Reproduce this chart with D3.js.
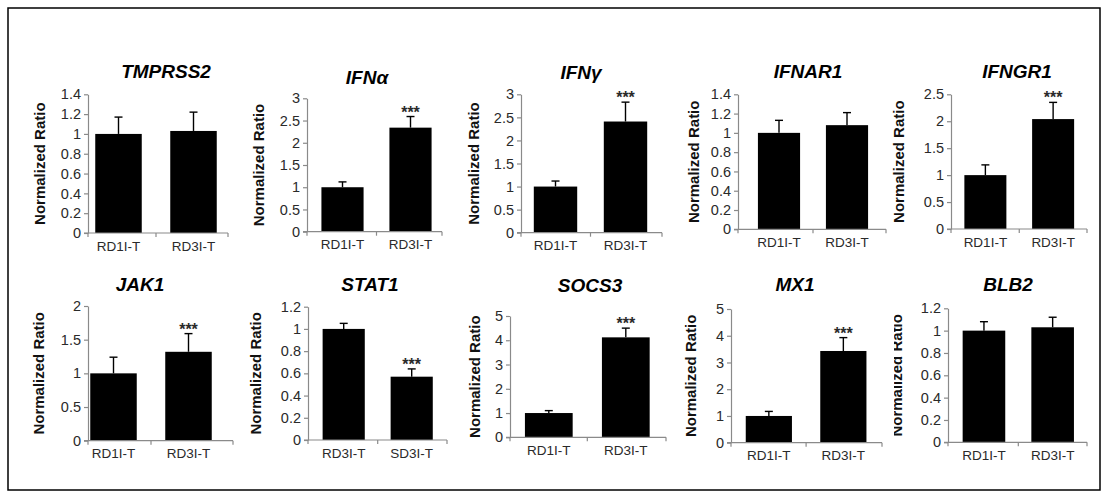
<!DOCTYPE html>
<html><head><meta charset="utf-8">
<script src="https://cdn.jsdelivr.net/npm/d3@7"></script>
<style>
body{margin:0;background:#fff}
svg{display:block}
text{font-family:"Liberation Sans",Arial,Helvetica,sans-serif}
</style>
</head><body>
<svg id="c" width="1105" height="494"></svg>
<script>
// ---------- data ----------
const genes = ["TMPRSS2","IFNα","IFNγ","IFNAR1","IFNGR1","JAK1","STAT1","SOCS3","MX1","BLB2"];
const categories = [
  ["RD1I-T","RD3I-T"],["RD1I-T","RD3I-T"],["RD1I-T","RD3I-T"],["RD1I-T","RD3I-T"],["RD1I-T","RD3I-T"],
  ["RD1I-T","RD3I-T"],["RD3I-T","SD3I-T"],["RD1I-T","RD3I-T"],["RD1I-T","RD3I-T"],["RD1I-T","RD3I-T"]
];
const means = [
  [1.00,1.03],[1.00,2.34],[1.00,2.41],[1.00,1.08],[1.00,2.04],
  [1.00,1.32],[1.00,0.57],[1.00,4.12],[1.00,3.43],[1.00,1.03]
];
const errors = [
  [0.17,0.19],[0.12,0.25],[0.12,0.42],[0.13,0.13],[0.19,0.31],
  [0.24,0.27],[0.05,0.07],[0.10,0.38],[0.17,0.50],[0.08,0.09]
];
const significance = [
  ["",""],["","***"],["","***"],["",""],["","***"],
  ["","***"],["","***"],["","***"],["","***"],["",""]
];
const yTicks = [
  [0,0.2,0.4,0.6,0.8,1,1.2,1.4],
  [0,0.5,1,1.5,2,2.5,3],
  [0,0.5,1,1.5,2,2.5,3],
  [0,0.2,0.4,0.6,0.8,1,1.2,1.4],
  [0,0.5,1,1.5,2,2.5],
  [0,0.5,1,1.5,2],
  [0,0.2,0.4,0.6,0.8,1,1.2],
  [0,1,2,3,4,5],
  [0,1,2,3,4,5],
  [0,0.2,0.4,0.6,0.8,1,1.2]
];
const yLabel = "Normalized Ratio";

// ---------- layout (pixels) ----------
const layout = [
  {x0:88,  x1:228,  bx0:81,  bx1:231,  y0:233,   y1:94.3,  labelX:45,  titleX:166,  titleY:78},
  {x0:307, x1:442,  bx0:308.5,bx1:444.5,y0:231.7, y1:98.3,  labelX:264, titleX:367,  titleY:84},
  {x0:521, x1:662,  bx0:520.5,bx1:660.5,y0:232.7, y1:94.3,  labelX:479, titleX:581,  titleY:79},
  {x0:738, x1:886,  bx0:745, bx1:881,  y0:229.3, y1:94.3,  labelX:699, titleX:808,  titleY:78},
  {x0:951, x1:1087, bx0:951.5,bx1:1087, y0:229,   y1:94.3,  labelX:904, titleX:1017, titleY:78},
  {x0:88,  x1:233,  bx0:76,  bx1:226,  y0:440.7, y1:306,   labelX:44,  titleX:140,  titleY:291},
  {x0:308, x1:447,  bx0:309.7,bx1:445.7,y0:440,   y1:306.7, labelX:261, titleX:370,  titleY:291},
  {x0:510, x1:666,  bx0:510.3,bx1:664.3,y0:437.3, y1:316,   labelX:480, titleX:590,  titleY:292},
  {x0:731, x1:882,  bx0:731.6,bx1:880.6,y0:442.7, y1:309,   labelX:696, titleX:795,  titleY:291},
  {x0:948, x1:1087, bx0:949.6,bx1:1087, y0:442.3, y1:308.3, labelX:902, titleX:1008, titleY:291, clipLabel:true}
];

const svg = d3.select("#c");
svg.append("rect").attr("x",8).attr("y",8).attr("width",1092).attr("height",482)
  .attr("fill","none").attr("stroke","#000").attr("stroke-width",1.5);

const defs = svg.append("defs");
const axisColor = "#8a8a8a";
const textColor = "#2a2a2a";

genes.forEach((g,i)=>{
  const L = layout[i];
  const ticks = yTicks[i];
  const y = d3.scaleLinear().domain([0, ticks[ticks.length-1]]).range([L.y0, L.y1]);
  const x = d3.scaleBand().domain(categories[i]).range([L.bx0, L.bx1]).paddingInner(0.38).paddingOuter(0.19);
  const p = svg.append("g");

  // bars
  p.selectAll("rect.bar").data(means[i]).join("rect").attr("class","bar")
    .attr("x",(d,j)=>x(categories[i][j]))
    .attr("width",x.bandwidth())
    .attr("y",d=>y(d))
    .attr("height",d=>y(0)-y(d))
    .attr("fill","#000");

  // error bars (upper only)
  const cx = j => x(categories[i][j]) + x.bandwidth()/2;
  p.selectAll("line.err").data(means[i]).join("line").attr("class","err")
    .attr("x1",(d,j)=>cx(j)).attr("x2",(d,j)=>cx(j))
    .attr("y1",d=>y(d)).attr("y2",(d,j)=>y(d+errors[i][j]))
    .attr("stroke","#000").attr("stroke-width",1.4);
  p.selectAll("line.cap").data(means[i]).join("line").attr("class","cap")
    .attr("x1",(d,j)=>cx(j)-4).attr("x2",(d,j)=>cx(j)+4)
    .attr("y1",(d,j)=>y(d+errors[i][j])).attr("y2",(d,j)=>y(d+errors[i][j]))
    .attr("stroke","#000").attr("stroke-width",1.4);

  // significance stars
  p.selectAll("text.sig").data(means[i]).join("text").attr("class","sig")
    .attr("x",(d,j)=>cx(j)).attr("y",(d,j)=>y(d+errors[i][j])+1)
    .attr("text-anchor","middle").attr("font-size",16).attr("font-weight","bold")
    .attr("fill",textColor)
    .text((d,j)=>significance[i][j]);

  // y axis
  const ya = p.append("g").attr("transform",`translate(${L.x0},0)`)
    .call(d3.axisLeft(y).tickValues(ticks).tickSize(4).tickSizeOuter(0).tickPadding(3).tickFormat(d3.format("~g")));
  ya.select(".domain").attr("stroke",axisColor).attr("stroke-width",1.2);
  ya.selectAll(".tick line").attr("stroke",axisColor).attr("stroke-width",1.2);
  ya.selectAll(".tick text").attr("font-size",14.5).attr("fill",textColor).attr("font-family",null);

  // x axis
  const xa = p.append("g").attr("transform",`translate(0,${L.y0})`)
    .call(d3.axisBottom(x).tickSize(0).tickPadding(8));
  xa.select(".domain").remove();
  xa.selectAll(".tick text").attr("font-size",13.5).attr("fill",textColor).attr("font-family",null);
  p.append("line").attr("x1",L.x0-4).attr("x2",L.x1).attr("y1",L.y0).attr("y2",L.y0)
    .attr("stroke",axisColor).attr("stroke-width",1.2);
  const bounds = [L.x0, (x(categories[i][0])+x.bandwidth()+x(categories[i][1]))/2, L.x1];
  p.selectAll("line.xt").data(bounds).join("line").attr("class","xt")
    .attr("x1",d=>d).attr("x2",d=>d).attr("y1",L.y0).attr("y2",L.y0+4)
    .attr("stroke",axisColor).attr("stroke-width",1.2);

  // y label
  const yl = p.append("text")
    .attr("transform",`translate(${L.labelX},${(L.y0+L.y1)/2}) rotate(-90)`)
    .attr("text-anchor","middle").attr("font-size",15).attr("font-weight","bold")
    .attr("fill","#111").text(yLabel);
  if (L.clipLabel) {
    const id = "clip"+i;
    defs.append("clipPath").attr("id",id).append("rect")
      .attr("x",L.labelX-8).attr("y",L.y1-20).attr("width",20).attr("height",L.y0-L.y1+40);
    const wrap = p.append("g").attr("clip-path",`url(#${id})`);
    wrap.node().appendChild(yl.node());
  }

  // title
  p.append("text").attr("x",L.titleX).attr("y",L.titleY)
    .attr("text-anchor","middle").attr("font-size",19).attr("font-weight","bold")
    .attr("font-style","italic").attr("fill","#000").text(g);
});
</script>
</body></html>
